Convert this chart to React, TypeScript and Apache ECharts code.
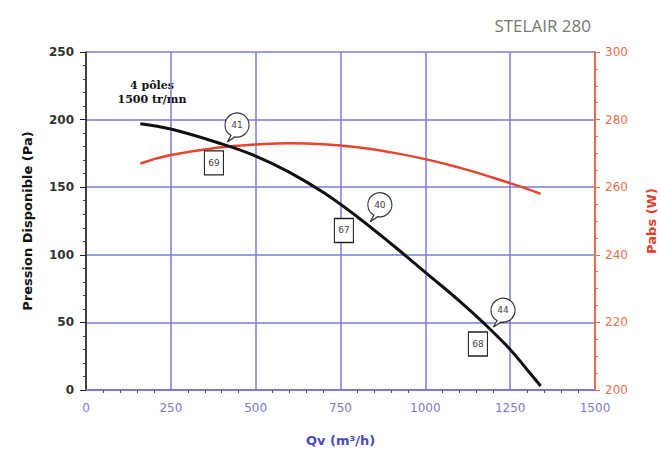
import React, { useEffect, useRef } from "react";
import * as echarts from "echarts";

const xTicks = [0, 250, 500, 750, 1000, 1250, 1500];
const qPressure = [160, 250, 400, 500, 600, 700, 800, 900, 1000, 1100, 1170, 1250, 1300, 1340];
const pressure = [197, 193, 182, 173, 161, 146, 128, 108, 87, 66, 50, 30, 15, 3];
const qPower = [160, 250, 400, 500, 600, 700, 800, 900, 1000, 1100, 1200, 1300, 1340];
const power = [267, 269.5, 271.8, 272.6, 273, 272.7, 271.8, 270.3, 268.3, 265.8, 262.8, 259.5, 258];
const bubbleQ = [445, 866, 1229];
const bubbleP = [196, 137, 59];
const bubbleText = ["41", "40", "44"];
const boxQ = [377, 760, 1155];
const boxP = [168, 118, 34];
const boxText = ["69", "67", "68"];

const bubblePath =
  "path://M11.26 20.85 L5 25 L8 19.66 A10 10 0 1 1 11.26 20.85 Z";

export default function App() {
  const ref = useRef<HTMLDivElement>(null);
  useEffect(() => {
    if (!ref.current) return;
    const chart = echarts.init(ref.current, null, { renderer: "svg" });
    const gridBlue = "#7b7bd6";
    chart.setOption({
      animation: false,
      backgroundColor: "#ffffff",
      title: {
        text: "STELAIR 280",
        right: 64,
        top: 12,
        textStyle: { fontFamily: "Open Sans", fontWeight: "normal", fontSize: 17, color: "#777777" },
      },
      grid: { left: 86, right: 65, top: 52, bottom: 61, outerBoundsMode: "none", containLabel: false },
      xAxis: {
        type: "value",
        min: 0,
        max: 1500,
        interval: 250,
        name: "Qv (m³/h)",
        nameLocation: "middle",
        nameGap: 44,
        nameTextStyle: { color: "#4b4bb5", fontWeight: "bold", fontSize: 13, fontFamily: "DejaVu Sans" },
        axisLine: { lineStyle: { color: gridBlue, width: 2 } },
        axisTick: { show: false },
        minorTick: { show: true, splitNumber: 5, length: 3, lineStyle: { color: "#555" } },
        axisLabel: {
          color: "#7a7cc8",
          fontSize: 12,
          margin: 12,
          fontFamily: "DejaVu Sans",
          formatter: (v: number) => (xTicks.includes(v) ? String(v) : ""),
        },
        splitLine: { show: true, lineStyle: { color: gridBlue, width: 1.5 } },
      },
      yAxis: [
        {
          type: "value",
          min: 0,
          max: 250,
          interval: 50,
          name: "Pression Disponible (Pa)",
          nameLocation: "middle",
          nameGap: 52,
          nameTextStyle: { color: "#111", fontWeight: "bold", fontSize: 13, fontFamily: "DejaVu Sans" },
          axisLine: { show: true, lineStyle: { color: "#222", width: 1.5 } },
          axisTick: { show: true, length: 6, lineStyle: { color: "#222" } },
          minorTick: { show: true, splitNumber: 5, length: 3, lineStyle: { color: "#444" } },
          axisLabel: { color: "#333", fontWeight: "bold", fontSize: 12, margin: 12, fontFamily: "DejaVu Sans" },
          splitLine: { show: true, lineStyle: { color: gridBlue, width: 1.5 } },
        },
        {
          type: "value",
          min: 200,
          max: 300,
          interval: 20,
          position: "right",
          name: "Pabs (W)",
          nameLocation: "middle",
          nameRotate: 90,
          nameGap: 50,
          nameTextStyle: { color: "#e2412a", fontWeight: "bold", fontSize: 13, fontFamily: "DejaVu Sans" },
          axisLine: { show: true, lineStyle: { color: "#ee6a4a", width: 2 } },
          axisTick: { show: true, length: 5, lineStyle: { color: "#ee6a4a" } },
          minorTick: { show: true, splitNumber: 4, length: 3, lineStyle: { color: "#ee6a4a" } },
          axisLabel: { color: "#e8704f", fontSize: 12, margin: 10, fontFamily: "DejaVu Sans" },
          splitLine: { show: false },
        },
      ],
      graphic: [
        {
          type: "text",
          x: 152,
          y: 85,
          style: {
            text: "4 pôles",
            font: "bold 11px 'DejaVu Serif'",
            fill: "#111",
            align: "center",
            verticalAlign: "middle",
          },
        },
        {
          type: "text",
          x: 152,
          y: 99,
          style: {
            text: "1500 tr/mn",
            font: "bold 11px 'DejaVu Serif'",
            fill: "#111",
            align: "center",
            verticalAlign: "middle",
          },
        },
      ],
      series: [
        {
          type: "line",
          yAxisIndex: 1,
          data: qPower.map((q, i) => [q, power[i]]),
          smooth: true,
          showSymbol: false,
          lineStyle: { color: "#e8432c", width: 2.5 },
          z: 3,
        },
        {
          type: "line",
          yAxisIndex: 0,
          data: qPressure.map((q, i) => [q, pressure[i]]),
          smooth: 0.4,
          showSymbol: false,
          lineStyle: { color: "#111111", width: 3 },
          z: 4,
        },
        {
          type: "scatter",
          yAxisIndex: 0,
          data: boxQ.map((q, i) => ({ value: [q, boxP[i]], label: { formatter: boxText[i] } })),
          symbol: "rect",
          symbolSize: [19, 24],
          itemStyle: { color: "#ffffff", borderColor: "#222", borderWidth: 1.2, opacity: 1 },
          label: { show: true, position: "inside", fontSize: 9, color: "#444", fontFamily: "DejaVu Sans" },
          z: 5,
        },
        {
          type: "scatter",
          yAxisIndex: 0,
          data: bubbleQ.map((q, i) => ({ value: [q, bubbleP[i]], label: { formatter: bubbleText[i] } })),
          symbol: bubblePath,
          symbolSize: [24, 28.8],
          symbolOffset: [0, 2.4],
          itemStyle: { color: "#ffffff", borderColor: "#333", borderWidth: 1.2, opacity: 1 },
          label: { show: true, position: "inside", offset: [0, -2.4], fontSize: 9, color: "#444", fontFamily: "DejaVu Sans" },
          z: 6,
        },
      ],
    });
    return () => chart.dispose();
  }, []);
  return (
    <div
      ref={ref}
      style={{ position: "absolute", left: 0, top: 0, width: 660, height: 451 }}
    />
  );
}
